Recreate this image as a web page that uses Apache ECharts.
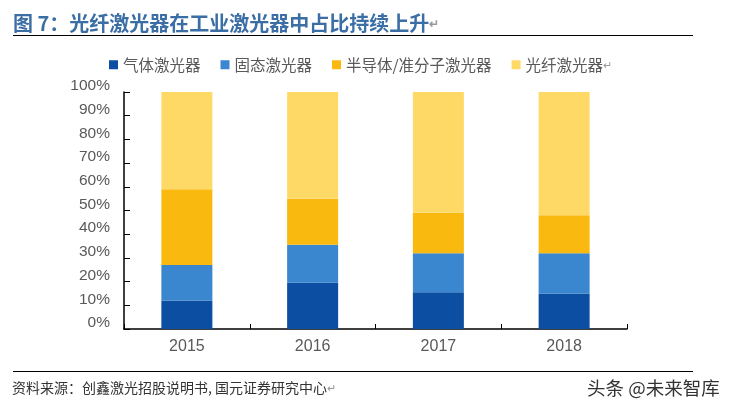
<!DOCTYPE html>
<html>
<head>
<meta charset="utf-8">
<style>
html,body{margin:0;padding:0;background:#fff;}
#chart{width:733px;height:411px;}
</style>
<script src="https://cdn.jsdelivr.net/npm/echarts@6/dist/echarts.min.js"></script>
</head>
<body>
<div id="chart"></div>
<script>
var years = ['2015', '2016', '2017', '2018'];
var seriesNames = ['气体激光器', '固态激光器', '半导体/准分子激光器', '光纤激光器'];
var gasValues = [12, 19.5, 15.5, 15];
var solidValues = [15, 16, 16.5, 17];
var diodeValues = [32, 19.5, 17, 16];
var fiberValues = [41, 45, 51, 52];
var seriesColors = ['#0B4EA2', '#3A87D0', '#F9B90F', '#FFD966'];
var cjk = '"Noto Sans CJK SC", sans-serif';
var latin = '"Liberation Sans", "Noto Sans CJK SC", sans-serif';

var chart = echarts.init(document.getElementById('chart'), null, {renderer: 'canvas'});

function bar(i, values) {
    return {
        name: seriesNames[i],
        type: 'bar',
        stack: 'total',
        barWidth: 51,
        data: values,
        itemStyle: {color: seriesColors[i]}
    };
}

var option = {
    animation: false,
    backgroundColor: '#fff',
    title: [
        {
            text: '图 7：光纤激光器在工业激光器中占比持续上升{ret|↵}',
            left: 8,
            top: 8,
            textStyle: {
                color: '#3A6EA5',
                fontSize: 20,
                fontWeight: 'bold',
                fontFamily: cjk,
                rich: {ret: {color: '#999', fontSize: 12}}
            }
        },
        {
            text: '资料来源：创鑫激光招股说明书, 国元证券研究中心{ret|↵}',
            left: 7,
            top: 376,
            textStyle: {
                color: '#333',
                fontSize: 14,
                fontWeight: 'normal',
                fontFamily: cjk,
                rich: {ret: {color: '#999', fontSize: 11}}
            }
        },
        {
            text: '头条 @未来智库',
            left: 582,
            top: 374,
            textStyle: {color: '#333', fontSize: 18.5, fontWeight: 'normal', fontFamily: cjk}
        }
    ],
    legend: {
        left: 104,
        top: 52,
        itemWidth: 9,
        itemHeight: 9,
        itemGap: 20,
        icon: 'rect',
        textStyle: {
            color: '#595959',
            fontSize: 15.5,
            fontFamily: cjk,
            rich: {ret: {color: '#999', fontSize: 11}}
        },
        formatter: function (name) {
            return name === '光纤激光器' ? name + '{ret|↵}' : name;
        },
        data: seriesNames
    },
    grid: {left: 124, right: 106, top: 92, bottom: 82},
    xAxis: {
        type: 'category',
        data: years,
        axisLine: {lineStyle: {color: '#000', width: 1.5}},
        axisTick: {show: true, inside: true, length: 5, lineStyle: {color: '#000'}},
        axisLabel: {color: '#595959', fontSize: 16, fontFamily: latin, margin: 10}
    },
    yAxis: {
        type: 'value',
        min: 0,
        max: 100,
        interval: 10,
        axisLine: {show: true, lineStyle: {color: '#000', width: 1.5}},
        axisTick: {show: true, inside: true, length: 6, lineStyle: {color: '#000'}},
        splitLine: {show: false},
        axisLabel: {
            color: '#595959',
            fontSize: 15.5,
            fontFamily: latin,
            margin: 14,
            verticalAlign: 'bottom',
            lineHeight: 12,
            formatter: '{value}%'
        }
    },
    graphic: [
        {type: 'line', shape: {x1: 13, y1: 35.5, x2: 693, y2: 35.5}, style: {stroke: '#000', lineWidth: 1}},
        {type: 'line', shape: {x1: 13, y1: 371.5, x2: 693, y2: 371.5}, style: {stroke: '#000', lineWidth: 1}}
    ],
    series: [
        bar(0, gasValues),
        bar(1, solidValues),
        bar(2, diodeValues),
        bar(3, fiberValues)
    ]
};

chart.setOption(option);
</script>
</body>
</html>
